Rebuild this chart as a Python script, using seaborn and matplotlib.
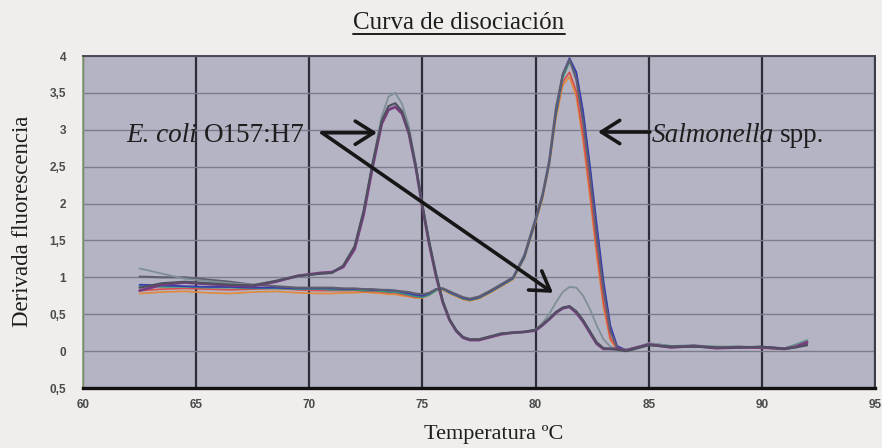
import matplotlib
matplotlib.use("Agg")
import numpy as np
import pandas as pd
import matplotlib.pyplot as plt
import seaborn as sns
from matplotlib.lines import Line2D

# ---------------- data ----------------
temperature = [62.5, 63.5, 64.5, 65.5, 66.5, 67.5, 68.5, 69.5,
               70.5, 71.0, 71.5, 72.0,
               72.4, 72.8, 73.2, 73.5, 73.8,
               74.1, 74.4, 74.7, 75.0,
               75.3, 75.6, 75.9, 76.2, 76.5, 76.8,
               77.1, 77.5, 78.0, 78.5, 79.0, 79.5, 80.0,
               80.3, 80.6, 80.9, 81.2, 81.5, 81.8,
               82.1, 82.4, 82.7, 83.0, 83.3, 83.6,
               84.0, 84.5, 85.0, 85.5, 86.0,
               87.0, 88.0, 89.0, 90.0, 91.0, 91.5, 92.0]

sal_orange = [0.78, 0.80, 0.81, 0.79, 0.78, 0.80, 0.81, 0.79,
              0.78, 0.78, 0.79, 0.79,
              0.80, 0.79, 0.78, 0.77, 0.77,
              0.75, 0.74, 0.72, 0.72,
              0.76, 0.82, 0.83, 0.78, 0.74, 0.70,
              0.68, 0.71, 0.79, 0.88, 0.97, 1.25, 1.74,
              2.05, 2.50, 3.15, 3.60, 3.72, 3.45,
              2.85, 2.10, 1.30, 0.60, 0.15, 0.03,
              0.01, 0.05, 0.09, 0.08, 0.06,
              0.07, 0.05, 0.05, 0.04, 0.03, 0.06, 0.11]

sal_red = [0.82, 0.84, 0.85, 0.84, 0.83, 0.84, 0.85, 0.83,
           0.82, 0.82, 0.82, 0.82,
           0.81, 0.81, 0.80, 0.79, 0.79,
           0.77, 0.75, 0.73, 0.73,
           0.77, 0.83, 0.84, 0.79, 0.75, 0.71,
           0.69, 0.72, 0.80, 0.89, 0.98, 1.27, 1.76,
           2.08, 2.53, 3.20, 3.65, 3.78, 3.52,
           2.92, 2.18, 1.38, 0.66, 0.18, 0.04,
           0.01, 0.05, 0.10, 0.08, 0.06,
           0.07, 0.05, 0.05, 0.05, 0.03, 0.07, 0.13]

sal_green = [0.88, 0.87, 0.87, 0.86, 0.86, 0.85, 0.85, 0.84,
             0.84, 0.83, 0.83, 0.83,
             0.82, 0.82, 0.81, 0.80, 0.80,
             0.78, 0.76, 0.74, 0.73,
             0.76, 0.82, 0.84, 0.79, 0.75, 0.71,
             0.69, 0.72, 0.80, 0.89, 0.98, 1.26, 1.76,
             2.08, 2.52, 3.20, 3.70, 3.92, 3.76,
             3.22, 2.48, 1.68, 0.92, 0.33, 0.06,
             0.02, 0.06, 0.10, 0.09, 0.07,
             0.08, 0.06, 0.06, 0.05, 0.04, 0.09, 0.15]

sal_blue = [0.90, 0.89, 0.88, 0.87, 0.87, 0.86, 0.86, 0.85,
            0.85, 0.85, 0.84, 0.84,
            0.84, 0.83, 0.83, 0.82, 0.82,
            0.80, 0.78, 0.76, 0.75,
            0.78, 0.84, 0.85, 0.80, 0.76, 0.72,
            0.70, 0.73, 0.81, 0.90, 0.99, 1.28, 1.78,
            2.10, 2.55, 3.25, 3.75, 3.97, 3.78,
            3.25, 2.52, 1.72, 0.95, 0.35, 0.07,
            0.01, 0.05, 0.09, 0.08, 0.06,
            0.06, 0.05, 0.05, 0.06, 0.04, 0.06, 0.09]

sal_gray = [1.01, 1.00, 1.00, 0.97, 0.94, 0.90, 0.88, 0.86,
            0.86, 0.86, 0.85, 0.85,
            0.84, 0.84, 0.83, 0.83, 0.82,
            0.81, 0.80, 0.78, 0.77,
            0.79, 0.84, 0.85, 0.81, 0.77, 0.73,
            0.71, 0.74, 0.82, 0.91, 1.00, 1.30, 1.80,
            2.12, 2.58, 3.30, 3.75, 3.95, 3.68,
            3.10, 2.38, 1.55, 0.82, 0.27, 0.05,
            0.00, 0.04, 0.10, 0.08, 0.06,
            0.07, 0.05, 0.06, 0.05, 0.03, 0.07, 0.10]

ecoli_light = [1.12, 1.05, 0.98, 0.95, 0.92, 0.90, 0.95, 1.01,
               1.05, 1.06, 1.15, 1.40,
               1.88, 2.55, 3.18, 3.45, 3.50,
               3.35, 3.05, 2.55, 1.98,
               1.47, 1.04, 0.67, 0.43, 0.28, 0.19,
               0.16, 0.16, 0.20, 0.24, 0.25, 0.26, 0.29,
               0.38, 0.50, 0.66, 0.80, 0.87, 0.86,
               0.75, 0.57, 0.35, 0.16, 0.06, 0.03,
               0.02, 0.05, 0.11, 0.09, 0.06,
               0.07, 0.06, 0.06, 0.05, 0.04, 0.08, 0.14]

ecoli_dark = [0.86, 0.92, 0.94, 0.92, 0.90, 0.89, 0.95, 1.02,
              1.05, 1.06, 1.16, 1.42,
              1.90, 2.55, 3.12, 3.32, 3.36,
              3.25, 2.98, 2.52, 1.98,
              1.48, 1.05, 0.68, 0.43, 0.28, 0.19,
              0.16, 0.16, 0.20, 0.24, 0.25, 0.26, 0.29,
              0.36, 0.44, 0.53, 0.59, 0.61, 0.54,
              0.42, 0.27, 0.12, 0.04, 0.03, 0.02,
              0.00, 0.04, 0.08, 0.07, 0.06,
              0.06, 0.05, 0.05, 0.06, 0.03, 0.05, 0.08]

ecoli_purple = [0.82, 0.90, 0.93, 0.91, 0.89, 0.88, 0.94, 1.02,
                1.06, 1.07, 1.14, 1.38,
                1.85, 2.50, 3.08, 3.27, 3.31,
                3.22, 2.95, 2.50, 1.95,
                1.45, 1.02, 0.66, 0.42, 0.27, 0.18,
                0.15, 0.15, 0.19, 0.23, 0.25, 0.26, 0.28,
                0.35, 0.43, 0.52, 0.58, 0.60, 0.52,
                0.40, 0.25, 0.10, 0.03, 0.03, 0.03,
                0.01, 0.05, 0.09, 0.07, 0.05,
                0.07, 0.04, 0.05, 0.05, 0.03, 0.06, 0.12]

x_ticks = [60, 65, 70, 75, 80, 85, 90, 95]
y_ticks = [-0.5, 0, 0.5, 1, 1.5, 2, 2.5, 3, 3.5, 4]
y_tick_labels = ["0,5", "0", "0,5", "1", "1,5", "2", "2,5", "3", "3,5", "4"]

title_text = "Curva de disociación"
x_label = "Temperatura ºC"
y_label = "Derivada fluorescencia"

# ---------------- styling ----------------
series = [
    ("sal_orange", sal_orange, "#e08a3a", 1.2),
    ("sal_red", sal_red, "#d8504e", 1.2),
    ("sal_green", sal_green, "#3b9878", 1.2),
    ("sal_blue", sal_blue, "#3a3cae", 1.3),
    ("sal_gray", sal_gray, "#5e5e70", 1.5),
    ("ecoli_light", ecoli_light, "#7e9096", 1.3),
    ("ecoli_purple", ecoli_purple, "#7a3c80", 2.0),
    ("ecoli_dark", ecoli_dark, "#505062", 1.6),
]

sns.set_theme(style="white")
plt.rcParams["font.family"] = ["Liberation Serif", "DejaVu Serif"]

W, H = 882, 448
fig = plt.figure(figsize=(W / 100, H / 100), dpi=100, facecolor="#efeeec")
ax = fig.add_axes([83 / W, 1 - 388 / H, (875 - 83) / W, (388 - 56) / H])
ax.set_facecolor("#b5b4c4")

df = pd.concat(
    [pd.DataFrame({"Temperatura": temperature, "Derivada": vals, "serie": name})
     for name, vals, _, _ in series],
    ignore_index=True)

for name, _, color, lw in series:
    sns.lineplot(data=df[df["serie"] == name], x="Temperatura", y="Derivada",
                 color=color, linewidth=lw, ax=ax, legend=False,
                 estimator=None, sort=False, zorder=3)

ax.set_xlim(60, 95)
ax.set_ylim(-0.5, 4)
ax.set_xticks(x_ticks)
ax.set_xticklabels([str(t) for t in x_ticks])
ax.set_yticks(y_ticks)
ax.set_yticklabels(y_tick_labels)
ax.set_xlabel("")
ax.set_ylabel("")

tick_font = dict(family="Liberation Sans", weight="bold", size=8.5)
for lab in ax.get_xticklabels() + ax.get_yticklabels():
    lab.set_fontproperties(matplotlib.font_manager.FontProperties(**tick_font))
    lab.set_color("#4a4a4a")
ax.tick_params(axis="both", length=0)
ax.tick_params(axis="x", pad=8)
ax.tick_params(axis="y", pad=12)

ax.set_axisbelow(True)
ax.yaxis.grid(True, color="#7c7c8c", linewidth=1.0)
ax.xaxis.grid(True, color="#2c2c3a", linewidth=1.6)

ax.spines["top"].set_color("#4a4a55")
ax.spines["top"].set_linewidth(1.4)
ax.spines["bottom"].set_color("#111111")
ax.spines["bottom"].set_linewidth(2.4)
ax.spines["left"].set_color("#86a070")
ax.spines["left"].set_linewidth(1.2)
ax.spines["right"].set_color("#3a3a45")
ax.spines["right"].set_linewidth(1.4)

# ---------------- annotations ----------------
arrow_kw = dict(arrowstyle="->,head_length=0.6,head_width=0.38", lw=2.6,
                color="#161616", shrinkA=0, shrinkB=0, mutation_scale=22)
ax.annotate("", xy=(72.99, 2.96), xytext=(70.56, 2.96), arrowprops=arrow_kw, zorder=5)
ax.annotate("", xy=(80.77, 0.79), xytext=(70.56, 2.96), arrowprops=arrow_kw, zorder=5)
ax.annotate("", xy=(82.76, 2.97), xytext=(85.05, 2.97), arrowprops=arrow_kw, zorder=5)

ann_size = 19.5
t1 = ax.text(61.93, 2.835, "E. coli", style="italic", size=ann_size,
             color="#1e1e1e", ha="left", va="baseline", zorder=6)
ax.annotate("O157:H7", xy=(1, 0), xycoords=t1, xytext=(5, 0),
            textcoords="offset points", size=ann_size, color="#1e1e1e",
            ha="left", va="bottom", zorder=6)
t3 = ax.text(85.14, 2.835, "Salmonella", style="italic", size=ann_size,
             color="#1e1e1e", ha="left", va="baseline", zorder=6)
ax.annotate("spp.", xy=(1, 0), xycoords=t3, xytext=(4, 0),
            textcoords="offset points", size=ann_size, color="#1e1e1e",
            ha="left", va="bottom", zorder=6)

# ---------------- titles ----------------
title = fig.text(459 / W, 1 - 23 / H, title_text, size=18, color="#1e1e1e",
                 ha="center", va="center")
fig.text(494 / W, 1 - 434 / H, x_label, size=16, color="#1e1e1e",
         ha="center", va="center")
fig.text(23 / W, 1 - 221 / H, y_label, size=16.5, color="#1e1e1e",
         ha="center", va="center", rotation=90)

fig.canvas.draw()
bb = title.get_window_extent()
fig.add_artist(Line2D([bb.x0 / W, bb.x1 / W], [1 - 34 / H, 1 - 34 / H],
                      transform=fig.transFigure, color="#1e1e1e", lw=1.4))

fig.savefig("out.png", dpi=100, facecolor=fig.get_facecolor())
